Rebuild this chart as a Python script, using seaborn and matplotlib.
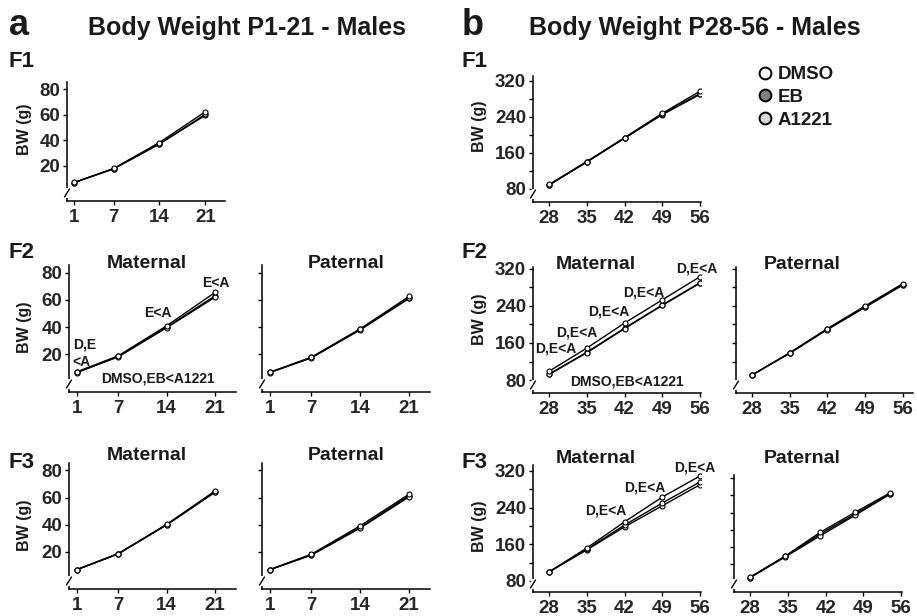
import numpy as np
import pandas as pd
import matplotlib
matplotlib.use("Agg")
import matplotlib.pyplot as plt
from matplotlib.lines import Line2D
import seaborn as sns

W, H = 917, 616

groups = ["DMSO", "EB", "A1221"]
legend_fills = ["white", "#7f7f7f", "#d9d9d9"]

days_a = [1, 7, 14, 21]
days_b = [28, 35, 42, 49, 56]

# body weight P1-21 (panel a), values per group: DMSO, EB, A1221
a_f1 = [[6.9, 17.7, 37.2, 59.5], [6.9, 17.6, 37.0, 60.3], [7.0, 17.9, 38.2, 62.3]]
a_f2_mat = [[6.8, 18.5, 40.0, 63.0], [6.7, 18.2, 39.6, 62.0], [7.2, 19.0, 41.0, 65.5]]
a_f2_pat = [[6.8, 17.8, 38.5, 61.5], [6.7, 17.5, 38.0, 61.0], [6.9, 18.0, 38.8, 62.5]]
a_f3_mat = [[6.7, 18.5, 40.0, 64.3], [6.7, 18.4, 39.8, 64.0], [6.8, 18.6, 40.2, 65.0]]
a_f3_pat = [[6.7, 17.8, 38.0, 61.5], [6.7, 17.5, 37.5, 60.5], [6.8, 18.2, 39.2, 62.5]]

# body weight P28-56 (panel b)
b_f1 = [[89, 140, 193, 245, 290], [89, 140, 193, 246, 292], [90, 141, 194, 248, 297]]
b_f2_mat = [[93, 140, 192, 242, 290], [92, 139, 191, 241, 289], [99, 149, 203, 253, 303]]
b_f2_pat = [[91, 138, 190, 238, 286], [91, 138, 189, 237, 285], [91, 139, 191, 240, 288]]
b_f3_mat = [[100, 148, 198, 244, 290], [100, 149, 202, 250, 296], [100, 152, 209, 263, 309]]
b_f3_pat = [[89, 138, 190, 237, 284], [89, 137, 186, 234, 283], [90, 139, 194, 241, 286]]

# significance notes: (text, day, weight)
a_f2_notes = [("D,E", 0.45, 24.4), ("<A", 0.45, 11.9), ("E<A", 12.7, 47.4),
              ("E<A", 21.1, 69.6), ("DMSO,EB<A1221", 12.7, -0.7)]
b_f2_notes = [("D,E<A", 29.3, 140), ("D,E<A", 33.2, 173), ("D,E<A", 39.0, 220),
              ("D,E<A", 45.5, 261), ("D,E<A", 55.4, 313), ("DMSO,EB<A1221", 42.4, 69)]
b_f3_notes = [("D,E<A", 38.6, 224), ("D,E<A", 45.7, 276), ("D,E<A", 55.1, 318)]

sns.set_theme(style="ticks")
plt.rcParams["font.family"] = ["Liberation Sans", "DejaVu Sans"]
plt.rcParams["font.weight"] = "bold"
plt.rcParams["text.color"] = "#1a1a1a"

fig = plt.figure(figsize=(W / 100, H / 100), dpi=100)


def px_axes(l, t, r, b):
    return fig.add_axes([l / W, 1 - b / H, (r - l) / W, (b - t) / H])


def ftext(x, y, s, size, ha="left", **kw):
    fig.text(x / W, 1 - y / H, s, fontsize=size, fontweight="bold", ha=ha,
             va=kw.pop("va", "baseline"), **kw)


def add_break(ax, box):
    # axis break mark near the bottom of the y spine
    h = box[3] - box[1]
    w = box[2] - box[0]
    ax.plot([0, 0], [5 / h, 11 / h], transform=ax.transAxes, color="white", lw=3,
            clip_on=False, zorder=5)
    ax.plot([-2.5 / w, 2.5 / w], [4 / h, 12 / h], transform=ax.transAxes,
            color="black", lw=1, clip_on=False, zorder=6)


def panel(box, days, series, xlim, ylim, xticks, yticks, ylabels=True,
          minor=None, xtick_pos=None):
    ax = px_axes(*box)
    df = pd.DataFrame({
        "day": days * 3,
        "bw": sum(series, []),
        "group": np.repeat(groups, len(days)),
    })
    sns.lineplot(data=df, x="day", y="bw", hue="group", hue_order=groups,
                 palette=["black"] * 3, marker="o", markersize=3.6,
                 markerfacecolor="white", markeredgecolor="black",
                 markeredgewidth=0.8, linewidth=1.0, legend=False, ax=ax)
    ax.set_xlim(*xlim)
    ax.set_ylim(*ylim)
    ax.set_xticks(xtick_pos if xtick_pos is not None else xticks)
    ax.set_xticklabels([str(t) for t in xticks])
    ax.set_yticks(yticks)
    if minor is not None:
        ax.set_yticks(minor, minor=True)
    if not ylabels:
        ax.set_yticklabels([])
    ax.set_xlabel("")
    ax.set_ylabel("")
    sns.despine(ax=ax)
    for s in ("left", "bottom"):
        ax.spines[s].set_linewidth(1.1)
        ax.spines[s].set_color("black")
    ax.tick_params(which="both", direction="out", length=3, width=1,
                   color="black", labelsize=13.5, pad=2)
    ax.tick_params(axis="x", pad=3)
    for lab in ax.get_xticklabels() + ax.get_yticklabels():
        lab.set_fontweight("bold")
    add_break(ax, box)
    return ax


xl_a = (-0.1, 24.0)
yl_a = (-7.5, 85.5)
yt_a = [20, 40, 60, 80]
xl_b = (25.0, 56.2)
yt_b = [80, 160, 240, 320]
ym_b = [120, 200, 280]

# panel a
panel((67, 82, 225, 201), days_a, a_f1, xl_a, yl_a, days_a, yt_a)
ax_a2m = panel((69, 265, 236, 392), days_a, a_f2_mat, xl_a, yl_a, days_a, yt_a)
panel((262, 265, 430, 392), days_a, a_f2_pat, xl_a, yl_a, days_a, yt_a, ylabels=False)
panel((69, 463, 236, 589), days_a, a_f3_mat, xl_a, yl_a, days_a, yt_a)
panel((262, 463, 430, 589), days_a, a_f3_pat, xl_a, yl_a, days_a, yt_a, ylabels=False)

# panel b
panel((533, 76, 701, 202), days_b, b_f1, xl_b, (51, 331), days_b, yt_b, minor=ym_b)
ax_b2m = panel((533, 267, 701, 393), days_b, b_f2_mat, xl_b, (52, 324), days_b,
               yt_b, minor=ym_b)
panel((736, 267, 913, 393), days_b, b_f2_pat, (25.0, 57.9), (52, 324), days_b,
      [120, 160, 200, 240, 280, 320], ylabels=False)
ax_b3m = panel((533, 465, 701, 592), days_b, b_f3_mat, xl_b, (56, 333), days_b,
               yt_b, minor=ym_b)
panel((734, 475, 902, 592), days_b, b_f3_pat, (24.8, 58.3), (55.6, 327), days_b,
      [120, 160, 200, 240, 280, 320], ylabels=False,
      xtick_pos=[28, 35.5, 43.1, 50.6, 58.1])

for ax, notes in ((ax_a2m, a_f2_notes), (ax_b2m, b_f2_notes), (ax_b3m, b_f3_notes)):
    for txt, x, y in notes:
        ha = "left" if txt in ("D,E", "<A") else "center"
        ax.text(x, y, txt, fontsize=10, fontweight="bold", ha=ha, va="baseline",
                clip_on=False)

# headers
ftext(9, 35, "a", 26)
ftext(247, 35, "Body Weight P1-21 - Males", 18, ha="center")
ftext(462, 35, "b", 26)
ftext(695, 35, "Body Weight P28-56 - Males", 18, ha="center")

for x0 in (8, 462):
    ftext(x0, 67, "F1", 16)
    ftext(x0, 258, "F2", 16)
    ftext(x0, 468, "F3", 16)

ftext(147, 268, "Maternal", 14, ha="center")
ftext(346, 268, "Paternal", 14, ha="center")
ftext(147, 460, "Maternal", 14, ha="center")
ftext(346, 460, "Paternal", 14, ha="center")
ftext(596, 269, "Maternal", 14, ha="center")
ftext(802, 269, "Paternal", 14, ha="center")
ftext(596, 463, "Maternal", 14, ha="center")
ftext(802, 463, "Paternal", 14, ha="center")

for x, y in ((25, 129), (24, 327), (25, 525), (479, 126), (479, 319), (479, 526)):
    ftext(x, y, "BW (g)", 11.5, ha="center", va="center", rotation=90)

handles = [Line2D([], [], ls="", marker="o", markersize=8.5, markerfacecolor=c,
                  markeredgecolor="black", markeredgewidth=1.4) for c in legend_fills]
fig.legend(handles, groups, loc="upper left", bbox_to_anchor=(756 / W, 1 - 66 / H),
           frameon=False, handletextpad=0.15, labelspacing=0.3,
           handlelength=1.0, borderpad=0, borderaxespad=0,
           prop={"weight": "bold", "size": 13.5})

fig.savefig("out.png", dpi=100)
